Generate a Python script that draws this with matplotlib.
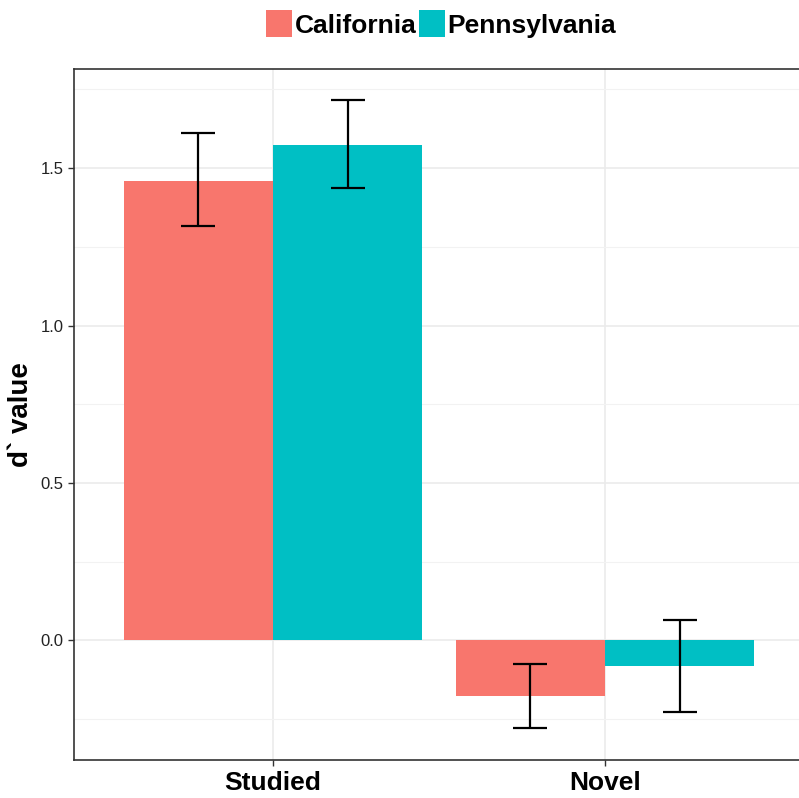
import matplotlib.pyplot as plt
import numpy as np

# d' means and error bar limits per condition and state
conditions = ["Studied", "Novel"]
states = ["California", "Pennsylvania"]
means = {
    "California": [1.459, -0.176],
    "Pennsylvania": [1.575, -0.082],
}
err_low = {
    "California": [1.317, -0.278],
    "Pennsylvania": [1.438, -0.228],
}
err_high = {
    "California": [1.613, -0.075],
    "Pennsylvania": [1.716, 0.064],
}
colors = {"California": "#F8766D", "Pennsylvania": "#00BFC4"}

plt.rcParams['font.family'] = ['Liberation Sans', 'DejaVu Sans']

fig = plt.figure(figsize=(7.99, 7.98), dpi=100)
W, H = 799, 798
ax = fig.add_axes([74 / W, (H - 760) / H, 730 / W, (760 - 69) / H])

x = np.arange(1, len(conditions) + 1)
width = 0.45
offsets = [-width / 2, width / 2]

for state, off in zip(states, offsets):
    m = np.array(means[state])
    lo = m - np.array(err_low[state])
    hi = np.array(err_high[state]) - m
    ax.bar(x + off, m, width=width, color=colors[state], label=state, zorder=2)
    ax.errorbar(x + off, m, yerr=[lo, hi], fmt='none', ecolor='black',
                elinewidth=1.6, capsize=12, capthick=1.6, zorder=3)

ax.set_xlim(0.4, 2.6)
ax.set_ylim(-0.380, 1.815)
ax.set_xticks(x)
ax.set_xticklabels(conditions, fontsize=19, fontweight='bold')
ax.set_yticks([0.0, 0.5, 1.0, 1.5])
ax.set_yticklabels(["0.0", "0.5", "1.0", "1.5"], fontsize=12, color='#222222')
ax.set_yticks([-0.25, 0.25, 0.75, 1.25, 1.75], minor=True)
ax.tick_params(axis='y', which='minor', length=0)
ax.tick_params(axis='both', which='major', length=4, color='#333333', width=1)
ax.tick_params(axis='x', pad=4)

ax.grid(True, which='major', color='#EBEBEB', linewidth=1.2, zorder=0)
ax.grid(True, which='minor', axis='y', color='#F2F2F2', linewidth=0.8, zorder=0)
ax.set_axisbelow(True)

for side in ax.spines.values():
    side.set_color('#333333')
    side.set_linewidth(1.2)

# right edge of the rotated label sits about 40 px left of the axis
ax.set_ylabel("d` value", fontsize=20, fontweight='bold')
ax.yaxis.set_label_coords(-40 / 730, 0.5)

handles, labels = ax.get_legend_handles_labels()
fig.legend(handles, labels, loc='center', bbox_to_anchor=(441 / W, 1 - 24 / H),
           ncol=2, frameon=False, handlelength=1.0, handleheight=1.2,
           handletextpad=0.08, columnspacing=0.1, borderpad=0,
           prop={'weight': 'bold', 'size': 19})

fig.savefig("out.png", dpi=100)
